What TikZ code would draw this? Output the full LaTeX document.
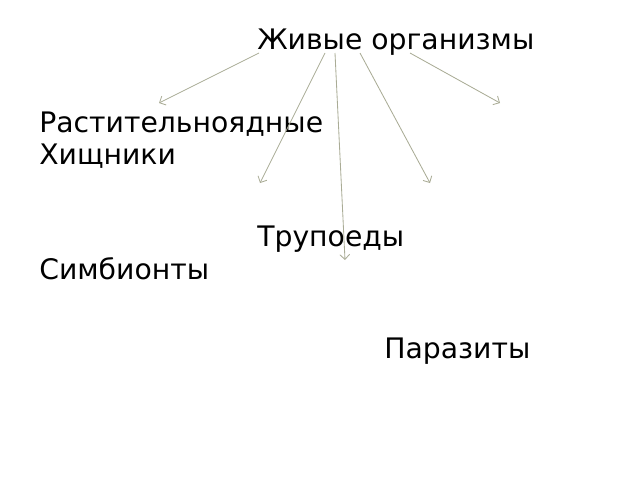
\documentclass[tikz,border=0pt]{standalone}
\usepackage{fontspec}
\setmainfont{DejaVu Sans}
\usetikzlibrary{arrows.meta}
\definecolor{linegray}{RGB}{170,172,150}

\begin{document}
\begin{tikzpicture}[x=0.025cm, y=-0.025cm,
  label/.style={anchor=base west, inner sep=0pt, font=\fontsize{20.1}{24}\selectfont},
  link/.style={draw=linegray, line width=0.6pt, -{Straight Barb[length=3.5pt, width=7pt]}}]
  \useasboundingbox (0, 0) rectangle (640, 480);
  \node[label] (org) at (257, 50) {Живые организмы};
  
  \node[label] (herb) at (39, 132) {Растительноядные};
  \node[label] (pred) at (39, 164) {Хищники};
  \node[label] (scav) at (257, 246) {Трупоеды};
  \node[label] (symb) at (39, 279) {Симбионты};
  \node[label] (para) at (384, 358) {Паразиты};
  
  \coordinate (s1) at (259, 53);
  \coordinate (s2) at (325, 53);
  \coordinate (s3) at (335, 53);
  \coordinate (s4) at (360, 53);
  \coordinate (s5) at (410, 53);
  \coordinate (e1) at (159, 103);
  \coordinate (e2) at (260, 183);
  \coordinate (e3) at (345, 260);
  \coordinate (e4) at (430, 183);
  \coordinate (e5) at (500, 103);
  
  \draw[link] (s1) -- (e1);
  \draw[link] (s2) -- (e2);
  \draw[link] (s3) -- (e3);
  \draw[link] (s4) -- (e4);
  \draw[link] (s5) -- (e5);
\end{tikzpicture}
\end{document}
